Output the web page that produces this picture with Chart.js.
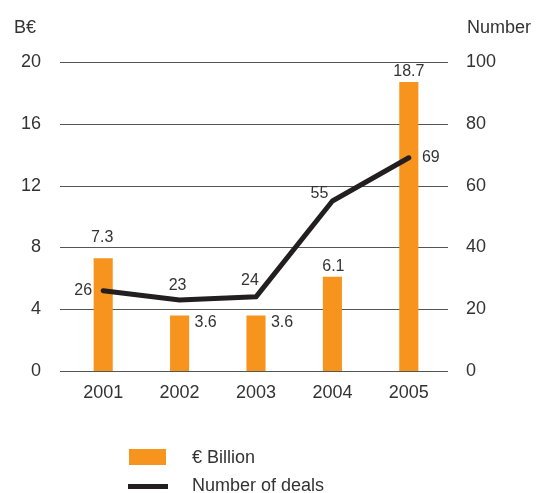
<!DOCTYPE html>
<html>
<head>
<meta charset="utf-8">
<script src="https://cdn.jsdelivr.net/npm/chart.js@4"></script>
<style>
  body { margin: 0; background: #fff; font-family: "Liberation Sans", Arial, sans-serif; color: #333; }
  #wrap { position: relative; width: 536px; height: 493px; }
  .txt { position: absolute; font-size: 18px; line-height: 20px; color: #333; white-space: nowrap; }
  .box { position: absolute; }
</style>
</head>
<body>
<div id="wrap">
  <canvas id="chart" width="536" height="493"></canvas>
  <div class="txt" style="left:14px; top:17px;">B€</div>
  <div class="txt" style="left:467px; top:17px;">Number</div>
  <div class="box" style="left:129px; top:449px; width:37px; height:16px; background:#F7941D;"></div>
  <div class="txt" style="left:192px; top:447px;">€ Billion</div>
  <div class="box" style="left:128px; top:484px; width:40px; height:5px; background:#231F20;"></div>
  <div class="txt" style="left:192px; top:475px;">Number of deals</div>
</div>
<script>
document.addEventListener('DOMContentLoaded', function () {
    const years = ['2001', '2002', '2003', '2004', '2005'];
    const billions = [7.3, 3.6, 3.6, 6.1, 18.7];
    const deals = [26, 23, 24, 55, 69];
    const billionLabels = ['7.3', '3.6', '3.6', '6.1', '18.7'];
    const dealLabels = ['26', '23', '24', '55', '69'];

    // label offsets from each mark (px)
    const barLabelOffsets = [[-1, -21], [26, 7], [26, 7], [1, -10], [0, -10]];
    const lineLabelOffsets = [[-20, 0], [-2, -14], [-6, -16], [-13, -7], [22, 0]];

    const gridLines = {
        id: 'gridLines',
        beforeDatasetsDraw(chart) {
            const c = chart.ctx;
            const y = chart.scales.y;
            const area = chart.chartArea;
            c.save();
            c.strokeStyle = '#555';
            c.lineWidth = 1;
            y.ticks.forEach(t => {
                const py = Math.round(y.getPixelForValue(t.value)) + 0.5;
                c.beginPath();
                c.moveTo(area.left - 5, py);
                c.lineTo(area.right + 1, py);
                c.stroke();
            });
            c.restore();
        }
    };

    const valueLabels = {
        id: 'valueLabels',
        afterDatasetsDraw(chart) {
            const c = chart.ctx;
            c.save();
            c.font = '16px "Liberation Sans", Arial, sans-serif';
            c.fillStyle = '#333';
            c.textAlign = 'center';
            c.textBaseline = 'middle';
            chart.getDatasetMeta(1).data.forEach((el, i) => {
                c.fillText(billionLabels[i], el.x + barLabelOffsets[i][0], el.y + barLabelOffsets[i][1]);
            });
            chart.getDatasetMeta(0).data.forEach((el, i) => {
                c.fillText(dealLabels[i], el.x + lineLabelOffsets[i][0], el.y + lineLabelOffsets[i][1]);
            });
            c.restore();
        }
    };

    const tickFont = { family: '"Liberation Sans", Arial, sans-serif', size: 18 };

    const ctx = document.getElementById('chart').getContext('2d');
    new Chart(ctx, {
        data: {
            labels: years,
            datasets: [{
                type: 'line',
                label: 'Number of deals',
                data: deals,
                yAxisID: 'y2',
                borderColor: '#231F20',
                borderWidth: 5,
                borderCapStyle: 'round',
                borderJoinStyle: 'round',
                pointRadius: 0,
                tension: 0,
                order: 0
            }, {
                type: 'bar',
                label: '€ Billion',
                data: billions,
                yAxisID: 'y',
                backgroundColor: '#F7941D',
                barPercentage: 0.5,
                categoryPercentage: 0.5,
                order: 1
            }]
        },
        options: {
            responsive: false,
            animation: false,
            events: [],
            layout: { padding: { top: 62, left: 0, right: 0, bottom: 0 } },
            plugins: { legend: { display: false }, tooltip: { enabled: false } },
            scales: {
                x: {
                    grid: { display: false, drawTicks: false },
                    border: { display: false },
                    ticks: { color: '#333', font: tickFont, padding: 11 },
                    afterFit(s) { s.height = 122; }
                },
                y: {
                    position: 'left',
                    min: 0, max: 20,
                    grid: { display: false, drawTicks: false },
                    border: { display: false },
                    ticks: { stepSize: 4, color: '#333', font: tickFont, padding: 24 },
                    afterFit(s) { s.width = 65; }
                },
                y2: {
                    position: 'right',
                    min: 0, max: 100,
                    grid: { display: false, drawTicks: false },
                    border: { display: false },
                    ticks: { stepSize: 20, color: '#333', font: tickFont, padding: 19 },
                    afterFit(s) { s.width = 89; }
                }
            }
        },
        plugins: [gridLines, valueLabels]
    });
});
</script>
</body>
</html>
